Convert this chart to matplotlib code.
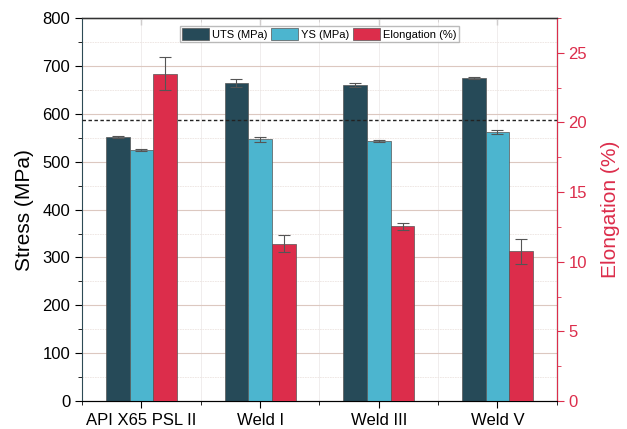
import numpy as np
import matplotlib.pyplot as plt
from matplotlib.ticker import MultipleLocator

plt.rcParams['font.family'] = ['Liberation Sans', 'DejaVu Sans']

categories = ["API X65 PSL II", "Weld I", "Weld III", "Weld V"]
uts = [552, 664, 660, 674]
uts_err = [2, 8, 4, 2]
ys = [524, 547, 543, 562]
ys_err = [2, 5, 2, 4]
elong = [23.5, 11.3, 12.55, 10.75]
elong_err = [1.2, 0.6, 0.25, 0.9]
ref_line = 588

c_uts = "#264a58"
c_ys = "#4cb5cf"
c_el = "#dc2d4b"

fig, ax = plt.subplots(figsize=(6.27, 4.29), dpi=100)
fig.subplots_adjust(left=0.131, right=0.888, top=0.958, bottom=0.065)
ax2 = ax.twinx()

x = np.arange(len(categories))
w = 0.2
ekw = dict(ecolor="#555555", elinewidth=0.8, capsize=4, capthick=0.8)
b1 = ax.bar(x - w, uts, w, yerr=uts_err, color=c_uts, edgecolor="#555555", linewidth=0.5, error_kw=ekw, label="UTS (MPa)", zorder=3)
b2 = ax.bar(x, ys, w, yerr=ys_err, color=c_ys, edgecolor="#555555", linewidth=0.5, error_kw=ekw, label="YS (MPa)", zorder=3)
b3 = ax2.bar(x + w, elong, w, yerr=elong_err, color=c_el, edgecolor="#555555", linewidth=0.5, error_kw=ekw, label="Elongation (%)", zorder=3)

ax.axhline(ref_line, color="#222222", linestyle=(0, (2.5, 1.8)), linewidth=1, zorder=4)

ax.set_xlim(-0.5, 3.5)
ax.set_ylim(0, 800)
ax2.set_ylim(0, 27.5)
ax.set_xticks(x)
ax.set_xticklabels(categories, fontsize=12)
ax.xaxis.set_minor_locator(MultipleLocator(0.5))
ax.yaxis.set_major_locator(MultipleLocator(100))
ax.yaxis.set_minor_locator(MultipleLocator(50))
ax2.yaxis.set_major_locator(MultipleLocator(5))
ax2.yaxis.set_minor_locator(MultipleLocator(2.5))

ax.tick_params(axis="y", labelsize=12, direction="out", length=5)
ax.tick_params(axis="y", which="minor", direction="out", length=3)
ax.tick_params(axis="x", which="both", direction="out", length=5)
ax.tick_params(axis="x", which="minor", length=3)
ax2.tick_params(axis="y", which="both", colors=c_el, labelsize=12, direction="out", length=5)
ax2.tick_params(axis="y", which="minor", length=3)

# top ticks point inward
top = ax.secondary_xaxis("top")
top.set_xticks(x)
top.xaxis.set_minor_locator(MultipleLocator(0.5))
top.tick_params(axis="x", which="both", direction="in", labeltop=False, length=5, color="#333333")
top.tick_params(axis="x", which="minor", length=3)
top.spines["top"].set_color("#333333")
top.spines["top"].set_linewidth(1.0)

ax.set_ylabel("Stress (MPa)", fontsize=15, labelpad=6)
ax2.set_ylabel("Elongation (%)", fontsize=15, color=c_el, labelpad=10)

ax.grid(True, axis="y", which="major", color="#dcc8c0", linewidth=0.8, zorder=0)
ax.grid(True, axis="y", which="minor", color="#ece4e0", linewidth=0.6, linestyle=(0, (2, 1)), zorder=0)
ax.grid(True, axis="x", which="both", color="#eeeaea", linewidth=0.6, zorder=0)
ax.set_axisbelow(True)

ax.spines["left"].set_color("#2d4a55")
ax2.spines["right"].set_color(c_el)
ax2.spines["left"].set_visible(False)
ax.spines["bottom"].set_color("#333333")
ax.spines["top"].set_color("#333333")
ax2.spines["top"].set_color("#333333")

handles = [b1, b2, b3]
ax2.legend(handles, [h.get_label() for h in handles], loc="upper center",
           bbox_to_anchor=(0.5, 0.993), ncol=3, fontsize=8, frameon=True,
           fancybox=False, edgecolor="#aaaaaa", handlelength=2.4, handleheight=1.2,
           handletextpad=0.3, columnspacing=0.3, borderpad=0.2)

fig.savefig("out.png", dpi=100)
